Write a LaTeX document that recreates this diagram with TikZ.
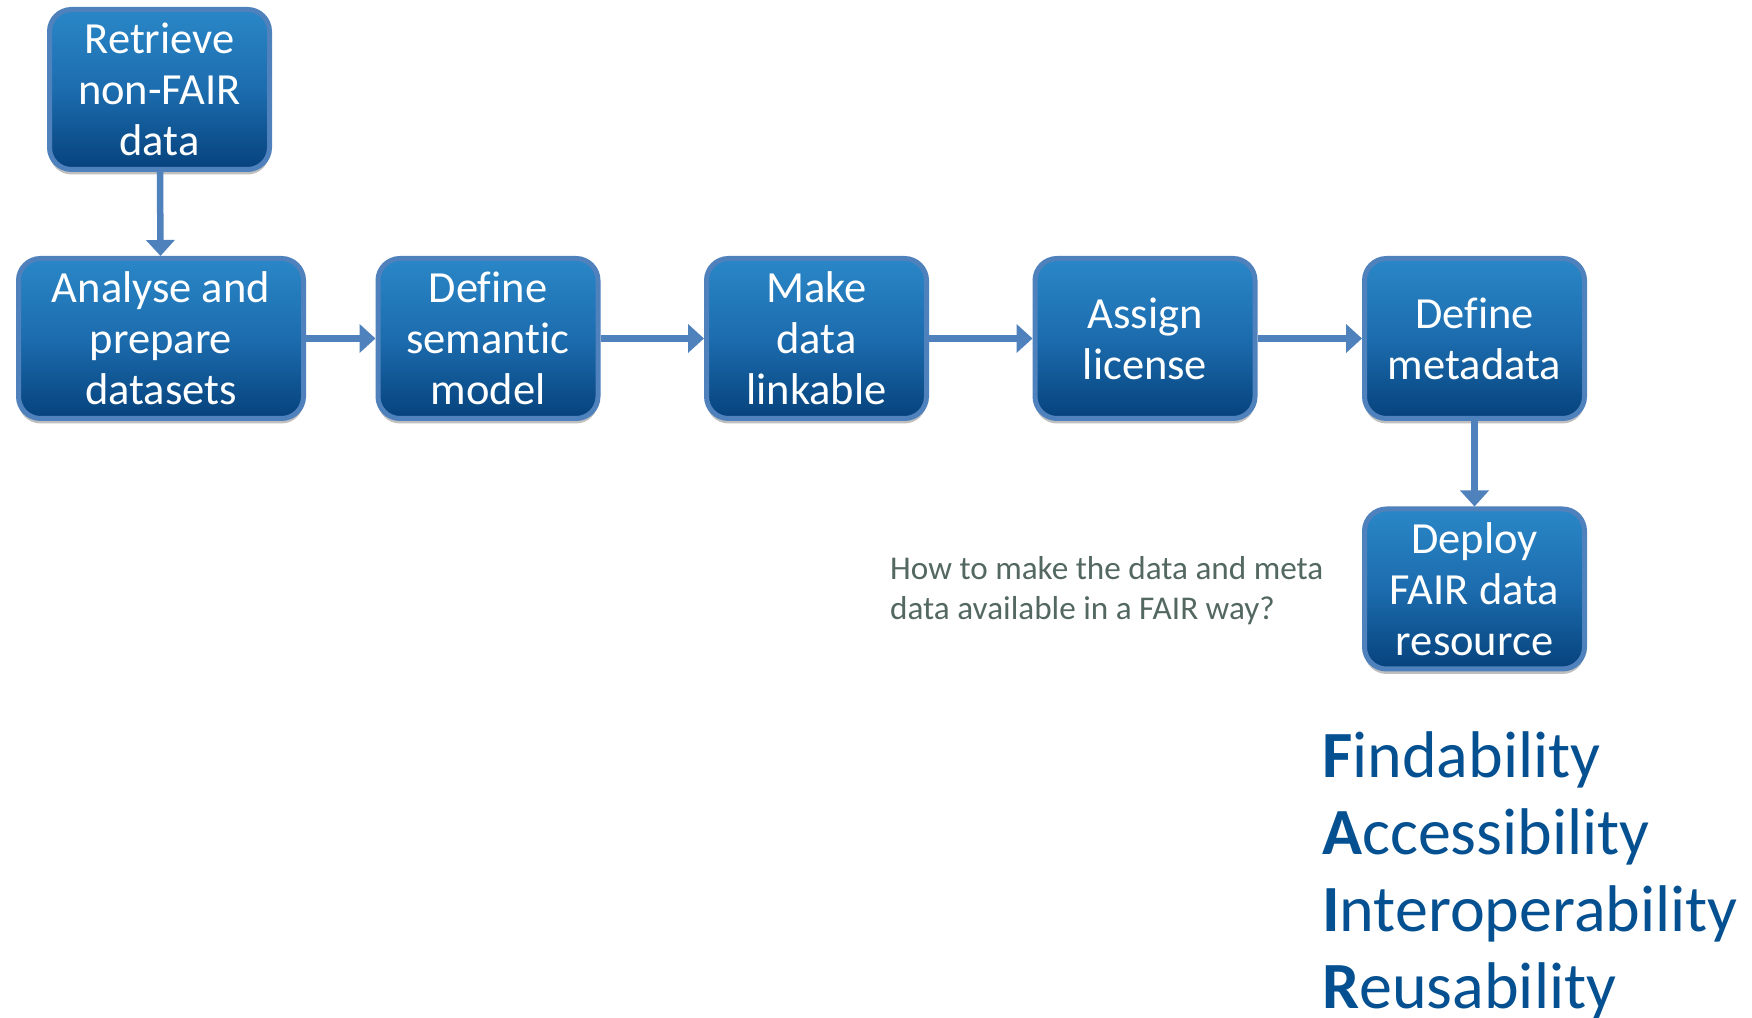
\documentclass[tikz,border=0pt]{standalone}
\usepackage{fontspec}
\setmainfont{Carlito}[Ligatures=NoCommon]
\usetikzlibrary{arrows.meta,shadows}
\definecolor{boxborder}{RGB}{79,129,189}
\definecolor{boxtop}{RGB}{42,135,199}
\definecolor{boxmid}{RGB}{28,108,174}
\definecolor{boxbot}{RGB}{6,66,124}
\definecolor{qtext}{RGB}{84,104,98}
\definecolor{fairblue}{RGB}{4,80,145}
\tikzset{
  stepbox/.style={draw=boxborder, line width=5pt, rounded corners=22pt,
    top color=boxtop, bottom color=boxbot, middle color=boxmid,
    minimum width=220pt, minimum height=160pt, align=center, text=white,
    font=\fontsize{44.5}{51}\selectfont, inner sep=0pt,
    drop shadow={shadow xshift=0pt, shadow yshift=-5pt, opacity=0.25, fill=black}},
  flow/.style={draw=boxborder, line width=6.5pt, -{Triangle[width=28pt,length=16pt]}},
  fairline/.style={anchor=base west, inner sep=0pt, text=fairblue,
    font=\fontsize{66}{76}\selectfont}
}
\begin{document}
\begin{tikzpicture}[x=1pt,y=1pt]
\useasboundingbox[fill=white] (0,0) rectangle (1752,1017);
\node[stepbox] (ret) at (159.5,927.5) {Retrieve\\non-FAIR\\data};
\node[stepbox, minimum width=285pt] (ana) at (161,678.5) {Analyse and\\prepare\\datasets};
\node[stepbox] (sem) at (488,678.5) {Define\\semantic\\model};
\node[stepbox] (lnk) at (816.5,678.5) {Make\\data\\linkable};
\node[stepbox] (lic) at (1145,678.5) {Assign\\license};
\node[stepbox] (met) at (1474.5,678.5) {Define\\metadata};
\node[stepbox] (dep) at (1474.5,428) {Deploy\\FAIR data\\resource};
\draw[flow] (ret) -- (ana);
\draw[flow] (ana) -- (sem);
\draw[flow] (sem) -- (lnk);
\draw[flow] (lnk) -- (lic);
\draw[flow] (lic) -- (met);
\draw[flow] (met) -- (dep);
\node[anchor=west, align=left, inner sep=0pt, text=qtext,
  font=\fontsize{33.2}{40}\selectfont] (q) at (890,426)
  {How to make the data and meta\\data available in a FAIR way?};
\node[fairline] (f) at (1322,239) {\textbf{F}indability};
\node[fairline] (a) at (1322,162) {\textbf{A}ccessibility};
\node[fairline] (i) at (1322,86) {\textbf{I}nteroperability};
\node[fairline] (r) at (1322,9) {\textbf{R}eusability};
\end{tikzpicture}
\end{document}
